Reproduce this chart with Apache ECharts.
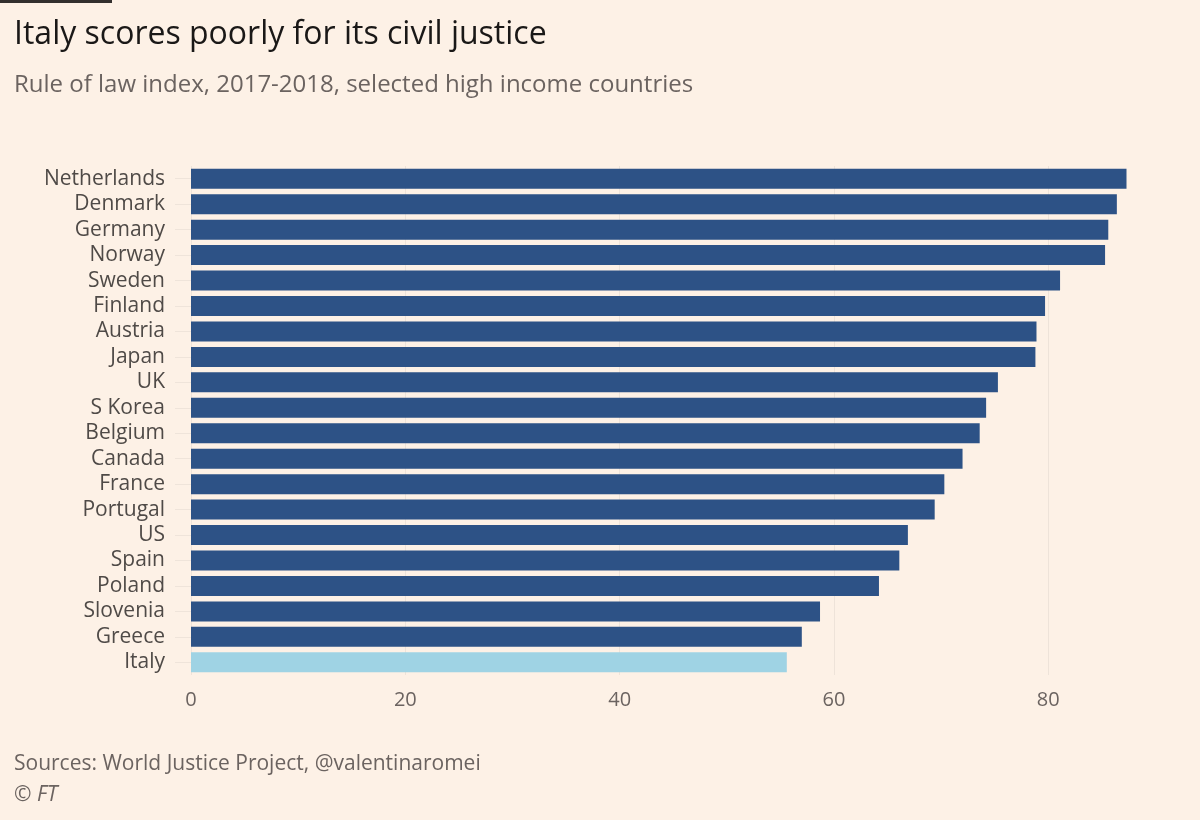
<!DOCTYPE html>
<html>
<head>
<meta charset="utf-8">
<script src="https://cdn.jsdelivr.net/npm/echarts@6/dist/echarts.min.js"></script>
<style>
  html, body { margin: 0; padding: 0; background: #fdf1e6; }
  #chart { width: 1200px; height: 820px; }
</style>
</head>
<body>
<div id="chart"></div>
<script>
// 데이터
const countries = ['Netherlands', 'Denmark', 'Germany', 'Norway', 'Sweden', 'Finland', 'Austria', 'Japan', 'UK', 'S Korea',
  'Belgium', 'Canada', 'France', 'Portugal', 'US', 'Spain', 'Poland', 'Slovenia', 'Greece', 'Italy'];
const scores = [87.3, 86.4, 85.6, 85.3, 81.1, 79.7, 78.9, 78.8, 75.3, 74.2,
  73.6, 72.0, 70.3, 69.4, 66.9, 66.1, 64.2, 58.7, 57.0, 55.6];
const highlight = 'Italy';
const xTicks = [0, 20, 40, 60, 80];

const chart = echarts.init(document.getElementById('chart'));
const font = '"Open Sans", sans-serif';

const option = {
  backgroundColor: '#fdf1e6',
  textStyle: { fontFamily: font },
  title: [
    {
      text: 'Italy scores poorly for its civil justice',
      left: 9,
      top: 14,
      textStyle: { fontSize: 32, fontWeight: 'normal', color: '#1a1817', fontFamily: font },
    },
    {
      text: 'Rule of law index, 2017-2018, selected high income countries',
      left: 9,
      top: 68,
      textStyle: { fontSize: 24, fontWeight: 'normal', color: '#6b6360', fontFamily: font },
    },
    {
      text: 'Sources: World Justice Project, @valentinaromei',
      left: 9,
      top: 749,
      textStyle: { fontSize: 21, fontWeight: 'normal', color: '#6b6360', fontFamily: font },
    },
    {
      text: '© FT',
      left: 9,
      top: 780,
      textStyle: { fontSize: 21, fontWeight: 'normal', fontStyle: 'italic', color: '#6b6360', fontFamily: font },
    },
  ],
  graphic: [
    { type: 'rect', left: 0, top: 0, shape: { width: 112, height: 3 }, style: { fill: '#33302e' } },
  ],
  grid: { left: 191, right: 66, top: 166, bottom: 145 },
  xAxis: {
    type: 'value',
    min: 0,
    max: 88,
    interval: 20,
    axisLine: { show: false },
    axisTick: { show: false },
    axisLabel: {
      showMaxLabel: false,
      margin: 15,
      fontSize: 20,
      color: '#6b6360',
      formatter: (v) => (xTicks.includes(v) ? String(v) : ''),
    },
    splitLine: { show: true, showMaxLine: false, lineStyle: { color: '#eee3d9', width: 1 } },
  },
  yAxis: {
    type: 'category',
    data: countries,
    inverse: true,
    axisLine: { show: false },
    axisTick: { show: true, interval: 0, alignWithLabel: true, length: 16, lineStyle: { color: '#efe4da' } },
    axisLabel: { interval: 0, margin: 26, fontSize: 21, color: '#4f4a47' },
  },
  series: [
    {
      type: 'bar',
      barWidth: 20,
      data: countries.map((c, i) => ({
        value: scores[i],
        itemStyle: { color: c === highlight ? '#9fd3e4' : '#2d5286' },
      })),
      emphasis: { disabled: true },
    },
  ],
};

chart.setOption(option);
</script>
</body>
</html>
